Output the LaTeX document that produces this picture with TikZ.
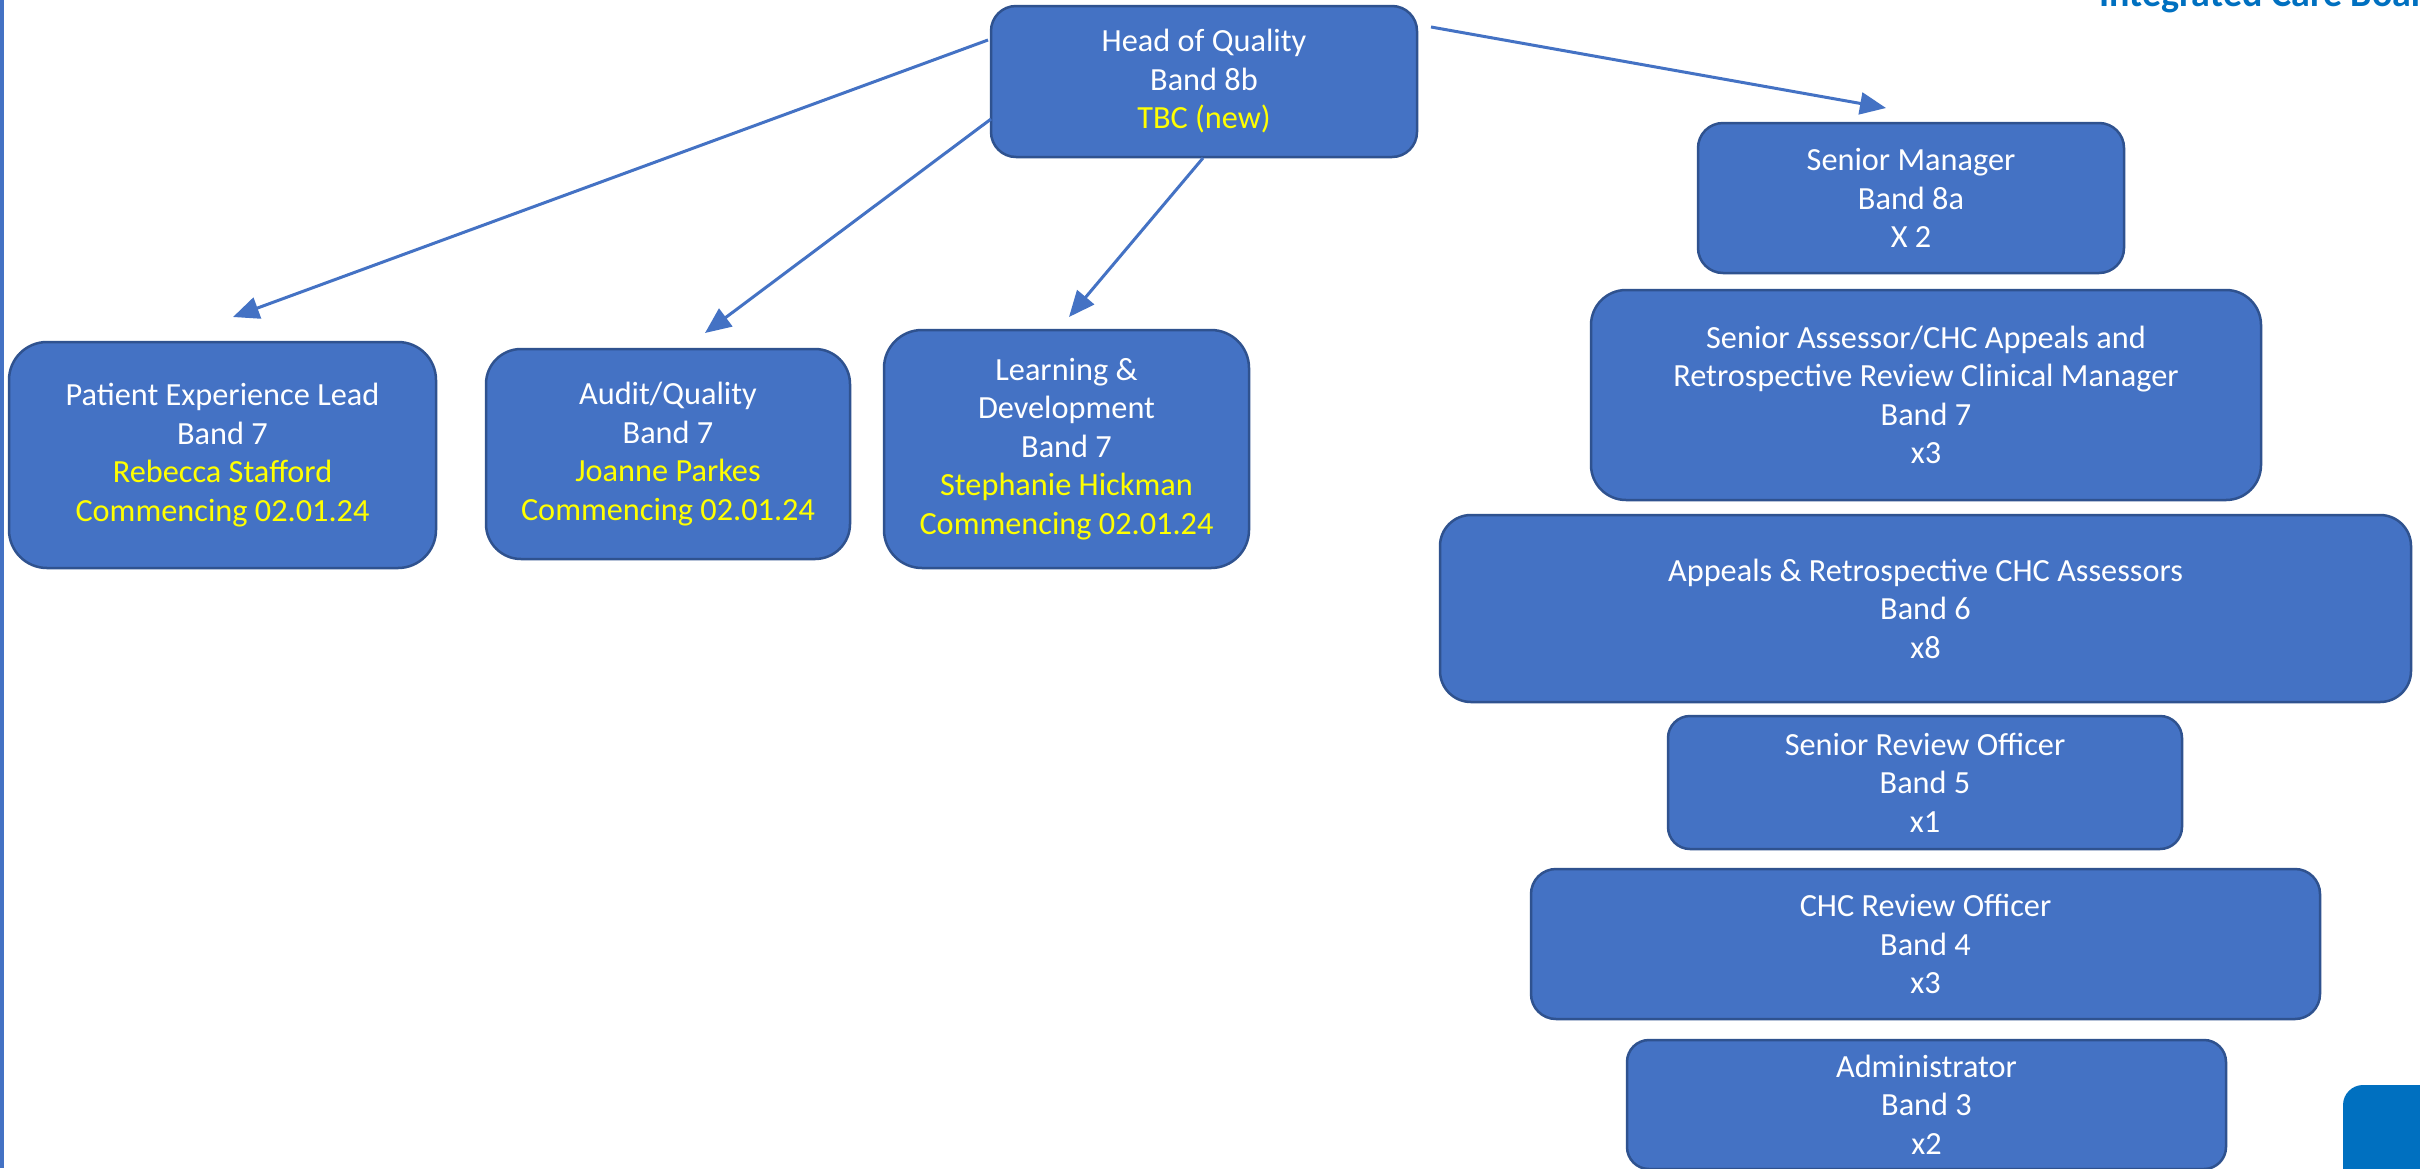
\documentclass[tikz,border=0pt]{standalone}
\usepackage{fontspec}
\setmainfont{Carlito}
\usetikzlibrary{arrows.meta}
\definecolor{boxfill}{RGB}{68,114,196}
\definecolor{boxline}{RGB}{47,82,143}
\definecolor{nhsblue}{RGB}{0,112,192}
\definecolor{tbc}{RGB}{255,255,0}
\tikzset{
  orgbox/.style={draw=boxline, line width=2.5pt, fill=boxfill, text=white, align=center,
    inner sep=0pt, font=\fontsize{32.3}{38.5}\selectfont},
  arr/.style={draw=boxfill, line width=3pt, -{Triangle[length=26pt,width=22pt]}},
}
\newcommand{\yl}[1]{\textcolor{tbc}{#1}}
\begin{document}
\begin{tikzpicture}[x=1pt,y=-1pt]
\useasboundingbox (0,0) rectangle (2420,1168);
\clip (0,0) rectangle (2420,1168);
\fill[white] (0,0) rectangle (2420,1168);
% left bar
\fill[boxfill] (0,0) rectangle (4,1168);
% title (cut at top)
\node[anchor=base west, inner sep=0pt, text=nhsblue, font=\fontsize{38}{44}\selectfont\bfseries] (title) at (2099,6) {Integrated Care Board};
% bottom-right tab
\fill[nhsblue, rounded corners=20pt] (2343,1085) rectangle (2460,1200);

% boxes
\node[orgbox, minimum width=426pt, minimum height=151pt, rounded corners=25pt] (hoq) at (1204,81.5)
  {Head of Quality\\Band 8b\\\yl{TBC (new)}};
\node[orgbox, minimum width=427pt, minimum height=226pt, rounded corners=38pt] (pel) at (222.5,455)
  {Patient Experience Lead\\Band 7\\\yl{Rebecca Stafford}\\\yl{Commencing 02.01.24}};
\node[orgbox, minimum width=364pt, minimum height=210pt, rounded corners=35pt] (aud) at (668,454)
  {Audit/Quality\\Band 7\\\yl{Joanne Parkes}\\\yl{Commencing 02.01.24}};
\node[orgbox, minimum width=365pt, minimum height=238pt, rounded corners=38pt] (ld) at (1066.5,449)
  {Learning \&\\Development\\Band 7\\\yl{Stephanie Hickman}\\\yl{Commencing 02.01.24}};
\node[orgbox, minimum width=426pt, minimum height=150pt, rounded corners=25pt] (sm) at (1911,198)
  {Senior Manager\\Band 8a\\X 2};
\node[orgbox, minimum width=670pt, minimum height=210pt, rounded corners=35pt] (sa) at (1926,395)
  {Senior Assessor/CHC Appeals and\\Retrospective Review Clinical Manager\\Band 7\\x3};
\node[orgbox, minimum width=971pt, minimum height=187pt, rounded corners=31pt] (ap) at (1925.5,608.5)
  {Appeals \& Retrospective CHC Assessors\\Band 6\\x8};
\node[orgbox, minimum width=514pt, minimum height=133pt, rounded corners=22pt] (sro) at (1925,782.5)
  {Senior Review Officer\\Band 5\\x1};
\node[orgbox, minimum width=789pt, minimum height=150pt, rounded corners=25pt] (chc) at (1925.5,944)
  {CHC Review Officer\\Band 4\\x3};
\node[orgbox, minimum width=599pt, minimum height=129pt, rounded corners=22pt] (adm) at (1926.5,1104.5)
  {Administrator\\Band 3\\x2};

% connector ends
\coordinate (s1) at (988,40);   \coordinate (e1) at (233,317);
\coordinate (s2) at (991,119);  \coordinate (e2) at (705,333);
\coordinate (s3) at (1203,158); \coordinate (e3) at (1069,317);
\coordinate (s4) at (1431,27);  \coordinate (e4) at (1886,108);
\draw[arr] (s1) -- (e1);
\draw[arr] (s2) -- (e2);
\draw[arr] (s3) -- (e3);
\draw[arr] (s4) -- (e4);
\end{tikzpicture}
\end{document}
